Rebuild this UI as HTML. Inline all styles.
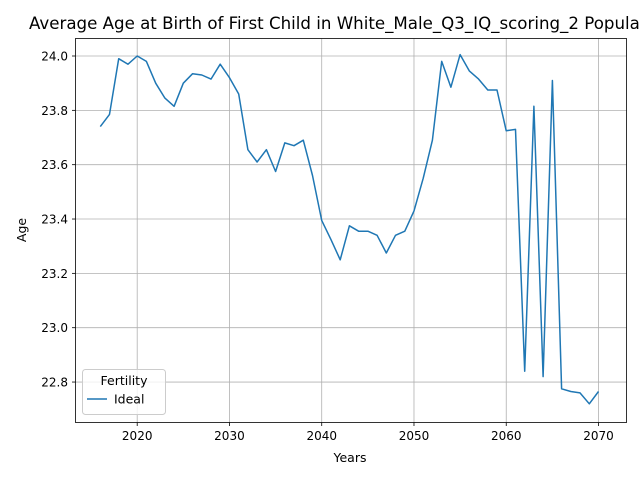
<!DOCTYPE html>
<html><head><meta charset="utf-8"><style>
body{margin:0;background:#fff;font-family:"Liberation Sans","DejaVu Sans",sans-serif;overflow:hidden}
svg text{font-family:"DejaVu Sans","Liberation Sans",sans-serif}
</style></head><body>
<svg id="chart" width="640" height="480" xmlns="http://www.w3.org/2000/svg">
<rect x="0" y="0" width="640" height="480" fill="#fff"/>
<g id="grid"></g>
<g id="ticks"></g>
<path id="line" fill="none" stroke="#1f77b4" stroke-width="1.5" stroke-linejoin="round"/>
<rect x="75.5" y="38.5" width="551" height="384" fill="none" stroke="#000" stroke-width="0.8"/>
<text x="29" y="29" font-size="16.65">Average Age at Birth of First Child in White_Male_Q3_IQ_scoring_2 Population</text>
<text x="350" y="462" font-size="12.5" text-anchor="middle">Years</text>
<text x="26" y="230" font-size="12.5" text-anchor="middle" transform="rotate(-90 26 230)">Age</text>
<g>
<rect x="82.5" y="369.5" width="83" height="45" rx="3" fill="#fff" fill-opacity="0.8" stroke="#ccc"/>
<text x="124" y="385" font-size="12.5" text-anchor="middle">Fertility</text>
<line x1="87" y1="399" x2="107" y2="399" stroke="#1f77b4" stroke-width="1.5"/>
<text x="114" y="403.5" font-size="12.5">Ideal</text>
</g>
</svg>
<script>
const years=[2016,2017,2018,2019,2020,2021,2022,2023,2024,2025,2026,2027,2028,2029,2030,2031,2032,2033,2034,2035,2036,2037,2038,2039,2040,2041,2042,2043,2044,2045,2046,2047,2048,2049,2050,2051,2052,2053,2054,2055,2056,2057,2058,2059,2060,2061,2062,2063,2064,2065,2066,2067,2068,2069,2070];
const ages=[23.74,23.785,23.99,23.97,24.0,23.98,23.9,23.845,23.815,23.9,23.935,23.93,23.915,23.97,23.92,23.86,23.655,23.61,23.655,23.575,23.68,23.67,23.69,23.56,23.395,23.325,23.25,23.375,23.355,23.355,23.34,23.275,23.34,23.355,23.43,23.55,23.69,23.98,23.885,24.005,23.945,23.915,23.875,23.875,23.725,23.73,22.84,23.815,22.82,23.91,22.775,22.765,22.76,22.72,22.765];
const xTicks=[2020,2030,2040,2050,2060,2070];
const yTicks=[22.8,23.0,23.2,23.4,23.6,23.8,24.0];
const yLabels=["22.8","23.0","23.2","23.4","23.6","23.8","24.0"];
const X=v=>137.2+(v-2020)*9.226;
const Y=v=>56+(24.0-v)*271.7;
const ns="http://www.w3.org/2000/svg";
const grid=document.getElementById('grid'),ticks=document.getElementById('ticks');
function mk(tag,attrs,parent){const e=document.createElementNS(ns,tag);for(const k in attrs)e.setAttribute(k,attrs[k]);parent.appendChild(e);return e;}
xTicks.forEach(t=>{const x=X(t);
 const g=mk('line',{x1:x,x2:x,y1:38.5,y2:422.5,stroke:'#b0b0b0','stroke-width':0.8},grid);
 
 
 const tk=mk('line',{x1:x,x2:x,y1:422.5,y2:426,stroke:'#000','stroke-width':0.8},ticks);
 
 
 const tx=mk('text',{x:x,y:440,'font-size':12,'text-anchor':'middle'},ticks);tx.textContent=t;
 
 
});
yTicks.forEach((t,i)=>{const y=Y(t);
 const g=mk('line',{x1:75.5,x2:626.5,y1:y,y2:y,stroke:'#b0b0b0','stroke-width':0.8},grid);
 
 
 const tk=mk('line',{x1:72,x2:75.5,y1:y,y2:y,stroke:'#000','stroke-width':0.8},ticks);
 
 
 const tx=mk('text',{x:68,y:y+4.5,'font-size':12,'text-anchor':'end'},ticks);tx.textContent=yLabels[i];
 
 
});
document.getElementById('line').setAttribute('d',years.map((yr,i)=>(i?'L':'M')+X(yr).toFixed(1)+' '+Y(ages[i]).toFixed(1)).join(' '));
</script>
</body></html>
